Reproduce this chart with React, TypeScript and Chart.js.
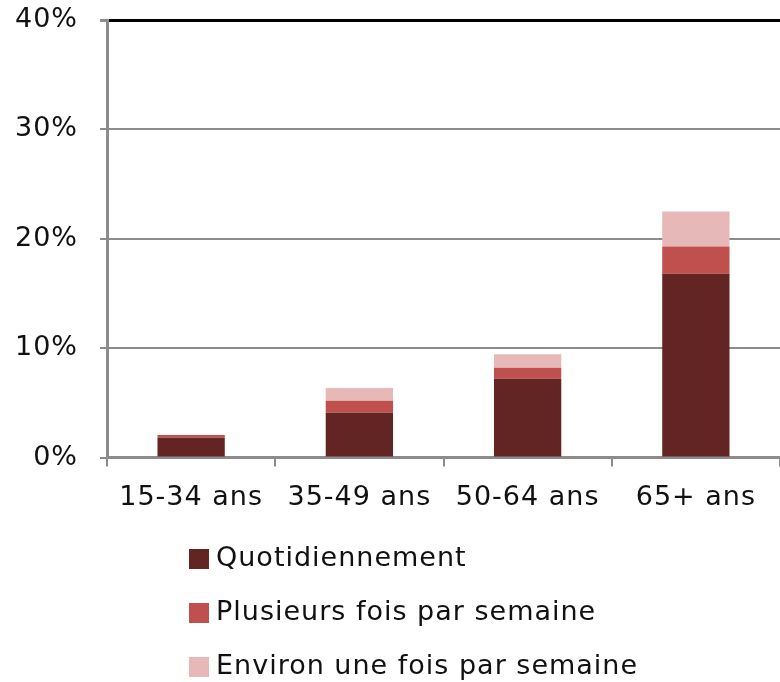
import React, { useEffect, useRef } from "react";
import { Chart, registerables } from "chart.js";

Chart.register(...registerables);

const categories = ["15-34 ans", "35-49 ans", "50-64 ans", "65+ ans"];
const seriesNames = ["Quotidiennement", "Plusieurs fois par semaine", "Environ une fois par semaine"];
const quotidien = [1.8, 4.1, 7.2, 16.8];
const plusieurs = [0.25, 1.1, 1.0, 2.5];
const environ = [0, 1.15, 1.25, 3.2];
const seriesColors = ["#632523", "#c0504d", "#e6b9b8"];
const yTicks = [0, 10, 20, 30, 40];

const FONT = "'DejaVu Sans', Verdana, sans-serif";
const SPACING = "1px";

const spacingPlugin = {
  id: "spacing",
  beforeInit(chart: any) {
    chart.ctx.letterSpacing = SPACING;
  },
  beforeLayout(chart: any) {
    chart.ctx.letterSpacing = SPACING;
  },
  beforeDraw(chart: any) {
    chart.ctx.letterSpacing = SPACING;
  },
};

const legendPlugin = {
  id: "verticalLegend",
  afterDraw(chart: any) {
    const ctx = chart.ctx;
    ctx.save();
    ctx.letterSpacing = SPACING;
    const x0 = 189;
    const rows = [559, 613, 667];
    chart.data.datasets.forEach((ds: any, i: number) => {
      const cy = rows[i];
      ctx.fillStyle = ds.backgroundColor;
      ctx.fillRect(x0, cy - 10, 20, 20);
      ctx.fillStyle = "#111111";
      ctx.font = `27px ${FONT}`;
      ctx.textBaseline = "middle";
      ctx.textAlign = "left";
      ctx.fillText(ds.label, x0 + 27, cy);
    });
    ctx.restore();
  },
};

const zeroPad = (s: any) => {
  s.paddingTop = 0;
  s.paddingBottom = 0;
  s.paddingLeft = 0;
  s.paddingRight = 0;
};

export default function App() {
  const ref = useRef<HTMLCanvasElement>(null);
  useEffect(() => {
    if (!ref.current) return;
    const values = [quotidien, plusieurs, environ];
    const chart = new Chart(ref.current, {
      type: "bar",
      data: {
        labels: categories,
        datasets: seriesNames.map((name, i) => ({
          label: name,
          data: values[i],
          backgroundColor: seriesColors[i],
          borderWidth: 0,
          barPercentage: 0.4,
          categoryPercentage: 1,
        })),
      },
      options: {
        animation: false,
        responsive: false,
        maintainAspectRatio: false,
        layout: { padding: { top: 20, right: 0, bottom: 175, left: 0 } },
        plugins: { legend: { display: false }, tooltip: { enabled: false } },
        scales: {
          x: {
            stacked: true,
            afterFit: (s: any) => {
              s.height = 49.5;
              zeroPad(s);
            },
            grid: {
              offset: true,
              drawOnChartArea: false,
              drawTicks: true,
              tickLength: 9,
              color: "#8c8c8c",
              lineWidth: 2,
            },
            border: { display: true, color: "#8c8c8c", width: 3 },
            ticks: {
              color: "#111111",
              font: { family: FONT, size: 27 },
              padding: 15,
              maxRotation: 0,
            },
          },
          y: {
            stacked: true,
            min: 0,
            max: 40,
            afterFit: (s: any) => {
              s.width = 107;
              zeroPad(s);
            },
            afterBuildTicks: (s: any) => {
              s.ticks = yTicks.map((v) => ({ value: v }));
            },
            grid: {
              color: (c: any) => (c.tick && c.tick.value === 40 ? "#000000" : "#8c8c8c"),
              lineWidth: (c: any) => (c.tick && c.tick.value === 40 ? 3 : 2),
              tickLength: 7,
              tickColor: "#8c8c8c",
            },
            border: { display: true, color: "#8c8c8c", width: 3 },
            ticks: {
              color: "#111111",
              font: { family: FONT, size: 27 },
              padding: 22,
              callback: (v: any) => `${v}%`,
            },
          },
        },
      },
      plugins: [spacingPlugin, legendPlugin],
    });
    return () => chart.destroy();
  }, []);
  return (
    <div style={{ position: "absolute", left: 0, top: 0, width: 780, height: 682, background: "#fff" }}>
      <canvas ref={ref} width={780} height={682} style={{ width: 780, height: 682 }} />
    </div>
  );
}
